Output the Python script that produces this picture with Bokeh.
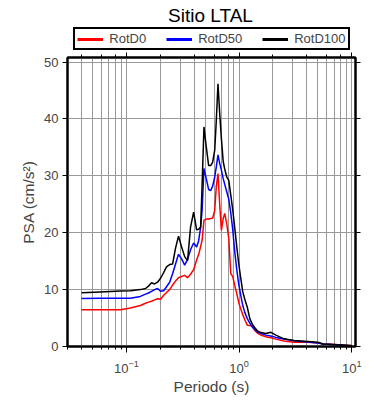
from bokeh.plotting import figure
from bokeh.layouts import column
from bokeh.models import (LogAxis, LinearAxis, Legend, LegendItem, Label,
                          Range1d, FixedTicker, LogTicker)
from bokeh.embed import file_html
from bokeh.resources import INLINE

# ---- data ----
periods = [0.040, 0.0587, 0.0885, 0.1085, 0.133, 0.148, 0.157, 0.167, 0.178, 0.189,
           0.201, 0.214, 0.227, 0.242, 0.257, 0.273, 0.290, 0.309, 0.329, 0.349,
           0.371, 0.395, 0.420, 0.438, 0.456, 0.470, 0.488, 0.510, 0.537, 0.560,
           0.583, 0.608, 0.627, 0.650, 0.673, 0.697, 0.723, 0.746, 0.777, 0.810,
           0.844, 0.879, 0.916, 0.954, 0.994, 1.035, 1.079, 1.124, 1.183, 1.245,
           1.311, 1.380, 1.467, 1.561, 1.729, 1.916, 2.123, 2.50, 3.07, 4.09,
           5.02, 5.56, 6.97, 10.0]

rotd0 = [6.45, 6.45, 6.45, 6.75, 7.2, 7.6, 7.8, 7.95, 8.2, 8.4,
         8.3, 9.0, 9.5, 10.0, 10.8, 11.5, 12.1, 12.3, 12.5, 12.1,
         12.7, 13.5, 15.2, 16.2, 17.6, 18.7, 22.2, 22.4, 22.4, 22.5,
         22.6, 23.9, 28.0, 30.4, 25.0, 20.4, 22.5, 23.4, 21.6, 19.0,
         12.8, 12.3, 10.7, 9.3, 7.7, 6.6, 5.6, 4.7, 3.75, 3.7,
         3.6, 2.8, 2.3, 2.0, 1.7, 1.55, 1.3, 0.95, 0.75, 0.75,
         0.6, 0.45, 0.35, 0.12]

rotd50 = [8.45, 8.5, 8.5, 8.5, 8.8, 9.2, 9.4, 9.7, 10.0, 10.2,
          9.7, 9.8, 10.5, 11.3, 12.8, 14.5, 16.2, 15.4, 14.3, 15.3,
          17.0, 18.2, 17.5, 18.6, 21.0, 24.0, 31.3, 29.6, 27.6, 27.4,
          28.2, 29.8, 31.5, 33.7, 32.2, 31.0, 29.5, 28.5, 27.2, 25.9,
          23.5, 20.5, 16.6, 13.5, 10.9, 9.0, 7.2, 6.0, 4.9, 4.1,
          3.4, 3.0, 2.5, 2.3, 2.0, 1.85, 1.6, 1.3, 1.0, 0.8,
          0.6, 0.45, 0.3, 0.08]

rotd100 = [9.45, 9.6, 9.75, 9.8, 10.0, 10.2, 10.6, 11.2, 11.0, 11.3,
           12.0, 13.0, 14.0, 14.4, 14.5, 17.3, 19.4, 17.5, 15.8, 15.1,
           21.0, 23.6, 20.5, 20.6, 21.0, 28.5, 38.6, 35.3, 31.8, 31.8,
           32.4, 34.5, 39.5, 46.2, 41.0, 36.5, 32.5, 31.2, 29.8, 29.2,
           26.6, 24.0, 20.8, 17.5, 14.5, 12.0, 9.6, 8.3, 6.9, 4.9,
           3.9, 3.3, 2.7, 2.45, 2.3, 2.5, 2.0, 1.35, 1.05, 0.9,
           0.75, 0.45, 0.35, 0.18]

series_names = ["RotD0", "RotD50", "RotD100"]
series_colors = ["#ff0000", "#0000ff", "#000000"]
y_ticks = [0, 10, 20, 30, 40, 50]
chart_title = "Sitio LTAL"

FONT = "Liberation Sans"
HEAD_H = 51
FRAME_LEFT = 67

# ---------------- header: title + legend ----------------
head = figure(width=382, height=HEAD_H, x_axis_type="log",
              x_range=Range1d(0.03, 10.8), y_range=Range1d(1000, 1001),
              output_backend="svg", toolbar_location=None,
              x_axis_location=None, y_axis_location=None,
              min_border=0, min_border_left=0, min_border_right=0,
              min_border_top=0, min_border_bottom=0,
              background_fill_color="white", border_fill_color="white")
head.outline_line_color = None
head.grid.visible = False

all_series = [rotd0, rotd50, rotd100]
items = []
for name, col, vals in zip(series_names, series_colors, all_series):
    # legend key lines (the data lie outside this strip's view)
    r = head.line(periods, vals, line_color=col, line_width=3)
    items.append(LegendItem(label=name, renderers=[r]))

legend = Legend(items=items, orientation="horizontal",
                location=(73.3 - FRAME_LEFT, 1),
                border_line_color="black", border_line_width=2, border_line_alpha=1,
                background_fill_color="white", background_fill_alpha=1,
                padding=2, spacing=20, margin=0,
                glyph_width=26, glyph_height=12, label_height=12, label_standoff=6,
                label_text_font=FONT, label_text_font_size="13px")
head.add_layout(legend)

title = Label(x=210 - FRAME_LEFT, y=HEAD_H - 14.5, x_units="screen", y_units="screen",
              text=chart_title, text_align="center", text_baseline="alphabetic",
              text_font=FONT, text_font_size="19px", text_color="black")
head.add_layout(title)

# ---------------- main chart ----------------
p = figure(width=382, height=392 - HEAD_H + 5, x_axis_type="log",
           x_range=Range1d(0.03, 10.8), y_range=Range1d(0, 50.8),
           output_backend="svg", toolbar_location=None,
           min_border_left=FRAME_LEFT, min_border_right=27,
           min_border_top=6, min_border_bottom=46,
           background_fill_color="white", border_fill_color="white")

p.outline_line_color = "black"
p.outline_line_width = 2
p.outline_line_alpha = 1

p.xgrid.grid_line_color = "#999999"
p.xgrid.minor_grid_line_color = "#999999"
p.ygrid.grid_line_color = "#999999"
p.ygrid.ticker = FixedTicker(ticks=y_ticks)

xa = p.xaxis[0]
xa.axis_label = "Periodo (s)"
xa.axis_label_text_font = FONT
xa.axis_label_text_font_size = "15.5px"
xa.axis_label_text_font_style = "normal"
xa.axis_label_standoff = 2
xa.major_label_text_font = FONT
xa.major_label_text_font_size = "13px"
xa.major_label_standoff = 7
xa.major_tick_out = 6
xa.major_tick_in = 0
xa.minor_tick_out = 3
xa.minor_tick_in = 0
xa.axis_line_width = 2
xa.major_tick_line_color = "black"
xa.minor_tick_line_color = "black"

ya = p.yaxis[0]
ya.ticker = FixedTicker(ticks=y_ticks)
ya.axis_label = "PSA (cm/s\u00b2)"
ya.axis_label_text_font = FONT
ya.axis_label_text_font_size = "15.5px"
ya.axis_label_text_font_style = "normal"
ya.axis_label_standoff = 4
ya.major_label_text_font = FONT
ya.major_label_text_font_size = "13px"
ya.major_label_standoff = 4
ya.major_tick_out = 5
ya.major_tick_in = 0
ya.minor_tick_line_color = None
ya.axis_line_width = 2

top = LogAxis(ticker=LogTicker(), major_label_text_font_size="1px",
              major_label_text_color=None,
              major_tick_out=5, major_tick_in=0, minor_tick_out=3, minor_tick_in=0,
              axis_line_width=2, major_label_standoff=0)
p.add_layout(top, "above")
right = LinearAxis(ticker=FixedTicker(ticks=y_ticks), major_label_text_font_size="1px",
                   major_label_text_color=None,
                   major_tick_out=5, major_tick_in=0, minor_tick_line_color=None,
                   axis_line_width=2, major_label_standoff=0)
p.add_layout(right, "right")

for col, vals in zip(series_colors, all_series):
    p.line(periods, vals, line_color=col, line_width=1.5)

layout = column(head, p, spacing=0)
open("out.html", "w").write(file_html(layout, INLINE))
